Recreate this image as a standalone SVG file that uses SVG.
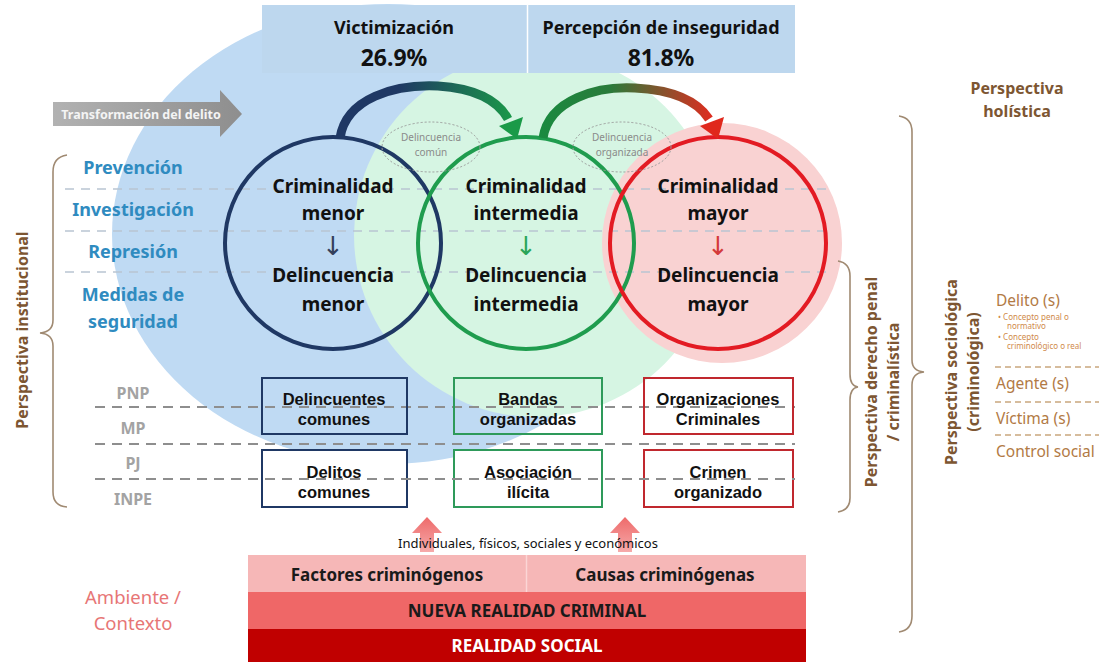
<svg xmlns="http://www.w3.org/2000/svg" width="1099" height="662" viewBox="0 0 1099 662">
<style>
.sans{font-family:"Noto Sans","Liberation Sans",sans-serif}
.b{font-weight:bold}
.ctr{text-anchor:middle}
.circ{font-family:"Noto Sans","Liberation Sans",sans-serif;font-weight:bold;font-size:19px;text-anchor:middle;fill:#111}
.darr{font-family:"DejaVu Sans",sans-serif;font-size:26px;text-anchor:middle}
.inst{font-family:"Noto Sans","Liberation Sans",sans-serif;font-weight:bold;font-size:18px;text-anchor:middle;fill:#2f8bc0}
.org{font-family:"Liberation Sans",Arial,sans-serif;font-weight:bold;font-size:16.5px;text-anchor:middle;fill:#111}
.gray{font-family:"Noto Sans","Liberation Sans",sans-serif;font-weight:bold;font-size:16px;text-anchor:middle;fill:#a3a3a3}
.brown{font-family:"Noto Sans","Liberation Sans",sans-serif;font-weight:bold;font-size:16px;text-anchor:middle;fill:#7d5632}
.soc{font-family:"Noto Sans","Liberation Sans",sans-serif;font-size:15.5px;fill:#b27a45}
.tiny{font-family:"Noto Sans","Liberation Sans",sans-serif;font-size:8px;fill:#d08a4a}
.dashg{stroke:#b9c5d2;stroke-width:1.6;stroke-dasharray:9 7;fill:none}
.dashd{stroke:#8e8e8e;stroke-width:2;stroke-dasharray:10 7;fill:none}
.dasho{stroke:#c9a67e;stroke-width:1.3;stroke-dasharray:6 4;fill:none}
.brk{stroke:#a08a72;stroke-width:1.6;fill:none}
.bubble{fill:none;stroke:#9a9a9a;stroke-width:1;stroke-dasharray:2 2}
.btxt{font-family:"Noto Sans","Liberation Sans",sans-serif;font-size:10px;fill:#8a8a8a;text-anchor:middle}
</style>
<defs>
<linearGradient id="g1" gradientUnits="userSpaceOnUse" x1="336" y1="0" x2="515" y2="0">
<stop offset="0" stop-color="#1f3864"/><stop offset="0.35" stop-color="#1f3864"/><stop offset="1" stop-color="#1a9a48"/>
</linearGradient>
<linearGradient id="g2" gradientUnits="userSpaceOnUse" x1="540" y1="0" x2="717" y2="0">
<stop offset="0" stop-color="#1a8a40"/><stop offset="0.4" stop-color="#2a7a3a"/><stop offset="1" stop-color="#e8281e"/>
</linearGradient>
<linearGradient id="gt" x1="0" y1="0" x2="1" y2="0">
<stop offset="0" stop-color="#b2b2b2"/><stop offset="1" stop-color="#8e8e8e"/>
</linearGradient>
<linearGradient id="gu" x1="0" y1="0" x2="0" y2="1">
<stop offset="0" stop-color="#ee6a6a"/><stop offset="1" stop-color="#f6aaaa"/>
</linearGradient>
</defs>

<!-- background halos -->
<g id="halos">
<ellipse cx="388" cy="234" rx="276" ry="230" fill="#bfdaf3"/>
<circle cx="536" cy="235" r="182" fill="#d6f5e3"/>
<circle cx="722" cy="243" r="120" fill="#f9d2d2"/>
</g>

<!-- top indicators -->
<g id="indicadores">
<rect x="262" y="5" width="265" height="68" fill="#bdd7ee"/>
<rect x="528" y="5" width="267" height="68" fill="#bdd7ee"/>
<line x1="527.5" y1="5" x2="527.5" y2="73" stroke="#fff" stroke-width="1.5"/>
<text class="sans b ctr" x="394" y="34" font-size="18" fill="#111">Victimización</text>
<text class="sans b ctr" x="394" y="66" font-size="23" fill="#111">26.9%</text>
<text class="sans b ctr" x="661" y="34" font-size="18" fill="#111">Percepción de inseguridad</text>
<text class="sans b ctr" x="661" y="66" font-size="23" fill="#111">81.8%</text>
</g>

<!-- transformación -->
<g id="transformacion">
<polygon points="53,102 220,102 220,90 242,114 220,137 220,126 53,126" fill="url(#gt)"/>
<text class="sans b ctr" x="141" y="118.5" font-size="12.5" fill="#f4f4f4">Transformación del delito</text>
</g>

<!-- dashed guide lines -->
<g id="guias">
<line class="dashg" x1="65" y1="189" x2="830" y2="189"/>
<line class="dashg" x1="65" y1="231" x2="830" y2="231"/>
<line class="dashg" x1="65" y1="272" x2="830" y2="272"/>
<line class="dashd" x1="95" y1="407" x2="795" y2="407"/>
<line class="dashd" x1="95" y1="444" x2="795" y2="444"/>
</g>

<!-- institutional perspective -->
<g id="perspectiva-institucional">
<path class="brk" d="M67,155 Q53,157 53,172 L53,320 Q53,332 40,333 Q53,334 53,346 L53,492 Q53,506 67,507"/>
<text class="brown" transform="translate(28,330) rotate(-90)" fill="#85592e">Perspectiva institucional</text>
<text class="inst" x="133" y="174">Prevención</text>
<text class="inst" x="133" y="216">Investigación</text>
<text class="inst" x="133" y="258">Represión</text>
<text class="inst" x="133" y="301">Medidas de</text>
<text class="inst" x="133" y="328">seguridad</text>
<text class="gray" x="133" y="399">PNP</text>
<text class="gray" x="133" y="434">MP</text>
<text class="gray" x="133" y="469">PJ</text>
<text class="gray" x="133" y="505">INPE</text>
</g>

<!-- circles -->
<g id="criminalidad-menor">
<ellipse cx="333" cy="243" rx="108" ry="106" fill="none" stroke="#1f3864" stroke-width="4"/>
<text class="circ" x="333" y="193">Criminalidad</text>
<text class="circ" x="333" y="220">menor</text>
<text class="darr" x="333" y="255" fill="#34405a">↓</text>
<text class="circ" x="333" y="282">Delincuencia</text>
<text class="circ" x="333" y="311">menor</text>
</g>
<g id="criminalidad-intermedia">
<ellipse cx="526" cy="243" rx="108" ry="106" fill="none" stroke="#1f9c4e" stroke-width="4"/>
<text class="circ" x="526" y="193">Criminalidad</text>
<text class="circ" x="526" y="220">intermedia</text>
<text class="darr" x="526" y="255" fill="#2aa558">↓</text>
<text class="circ" x="526" y="282">Delincuencia</text>
<text class="circ" x="526" y="311">intermedia</text>
</g>
<g id="criminalidad-mayor">
<ellipse cx="718" cy="243" rx="108" ry="106" fill="none" stroke="#e31b23" stroke-width="4"/>
<text class="circ" x="718" y="193">Criminalidad</text>
<text class="circ" x="718" y="220">mayor</text>
<text class="darr" x="718" y="255" fill="#d43a3a">↓</text>
<text class="circ" x="718" y="282">Delincuencia</text>
<text class="circ" x="718" y="311">mayor</text>
</g>

<g id="delincuencia-comun">
<ellipse class="bubble" cx="431" cy="147" rx="49" ry="25"/>
<text class="btxt" x="431" y="141">Delincuencia</text>
<text class="btxt" x="431" y="156">común</text>
</g>
<g id="delincuencia-organizada">
<ellipse class="bubble" cx="622" cy="147" rx="49" ry="25"/>
<text class="btxt" x="622" y="141">Delincuencia</text>
<text class="btxt" x="622" y="156">organizada</text>
</g>

<!-- connectors -->
<g id="conectores">
<path d="M340,138 C346,98 395,84 438,86 C474,88 498,100 508,119" fill="none" stroke="url(#g1)" stroke-width="9"/>
<polygon points="517,139 499,126 523,117" fill="#1a9a48"/>
<path d="M543,138 C549,99 598,86 635,88 C674,90 698,102 709,119" fill="none" stroke="url(#g2)" stroke-width="9"/>
<polygon points="718,139 700,126 724,117" fill="#e0281c"/>
<polygon points="427,517 442,533 434,533 434,552 420,552 420,533 412,533" fill="url(#gu)"/>
<polygon points="625,517 640,533 632,533 632,552 618,552 618,533 610,533" fill="url(#gu)"/>
</g>

<!-- organization boxes -->
<g id="delincuentes-comunes">
<rect x="262" y="378" width="145" height="56" fill="none" stroke="#1f3864" stroke-width="2"/>
<text class="org" x="334" y="405">Delincuentes</text>
<text class="org" x="334" y="425">comunes</text>
</g>
<g id="bandas-organizadas">
<rect x="454" y="378" width="148" height="56" fill="none" stroke="#2e9a5a" stroke-width="2"/>
<text class="org" x="528" y="405">Bandas</text>
<text class="org" x="528" y="425">organizadas</text>
</g>
<g id="organizaciones-criminales">
<rect x="644" y="378" width="149" height="56" fill="none" stroke="#c0282e" stroke-width="2"/>
<text class="org" x="718" y="405">Organizaciones</text>
<text class="org" x="718" y="425">Criminales</text>
</g>
<g id="delitos-comunes">
<rect x="262" y="450" width="145" height="57" fill="#fff" stroke="#1f3864" stroke-width="2"/>
<text class="org" x="334" y="478">Delitos</text>
<text class="org" x="334" y="498">comunes</text>
</g>
<g id="asociacion-ilicita">
<rect x="454" y="450" width="148" height="57" fill="#fff" stroke="#2e9a5a" stroke-width="2"/>
<text class="org" x="528" y="478">Asociación</text>
<text class="org" x="528" y="498">ilícita</text>
</g>
<g id="crimen-organizado">
<rect x="644" y="450" width="149" height="57" fill="#fff" stroke="#c0282e" stroke-width="2"/>
<text class="org" x="718" y="478">Crimen</text>
<text class="org" x="718" y="498">organizado</text>
</g>
<line class="dashd" x1="95" y1="479" x2="795" y2="479"/>

<!-- bottom layers -->
<g id="factores">
<text class="sans ctr" x="528" y="548" font-size="13" fill="#111">Individuales, físicos, sociales y económicos</text>
<rect x="248" y="555" width="558" height="37" fill="#f6b7b7"/>
<line x1="526.5" y1="555" x2="526.5" y2="592" stroke="#fbd6d6" stroke-width="1.5"/>
<text class="sans b ctr" x="387" y="581" font-size="17" fill="#1a1a1a">Factores criminógenos</text>
<text class="sans b ctr" x="665" y="581" font-size="17" fill="#1a1a1a">Causas criminógenas</text>
</g>
<g id="nueva-realidad-criminal">
<rect x="248" y="592" width="558" height="37" fill="#ef6767"/>
<text class="sans b ctr" x="527" y="617" font-size="17" fill="#1a1a1a">NUEVA REALIDAD CRIMINAL</text>
</g>
<g id="realidad-social">
<rect x="248" y="629" width="558" height="33" fill="#c00000"/>
<text class="sans b ctr" x="527" y="652" font-size="17" fill="#fff">REALIDAD SOCIAL</text>
</g>
<g id="ambiente">
<text class="sans ctr" x="133" y="604" font-size="18.5" fill="#e77676">Ambiente /</text>
<text class="sans ctr" x="133" y="630" font-size="18.5" fill="#e77676">Contexto</text>
</g>

<!-- right perspectives -->
<g id="perspectiva-derecho-penal">
<path class="brk" d="M838,261 Q850,263 850,276 L850,374 Q850,386 858,387 Q850,388 850,400 L850,498 Q850,510 838,512"/>
<text class="brown" transform="translate(877,382) rotate(-90)">Perspectiva derecho penal</text>
<text class="brown" transform="translate(899,382) rotate(-90)">/ criminalística</text>
</g>
<g id="perspectiva-holistica">
<text class="brown" x="1017" y="94" font-size="15">Perspectiva</text>
<text class="brown" x="1017" y="117" font-size="15">holística</text>
<path class="brk" d="M899,116 Q912,118 912,132 L912,360 Q912,371 924,372 Q912,373 912,385 L912,616 Q912,630 899,632"/>
</g>
<g id="perspectiva-sociologica">
<text class="brown" transform="translate(957,372) rotate(-90)">Perspectiva sociológica</text>
<text class="brown" transform="translate(979,372) rotate(-90)">(criminológica)</text>
<text class="soc" x="996" y="306">Delito (s)</text>
<text class="tiny" x="998" y="320">•  Concepto penal o</text>
<text class="tiny" x="1007" y="329">normativo</text>
<text class="tiny" x="998" y="340">•  Concepto</text>
<text class="tiny" x="1007" y="349">criminológico o real</text>
<line class="dasho" x1="995" y1="367" x2="1099" y2="367"/>
<text class="soc" x="996" y="389">Agente (s)</text>
<line class="dasho" x1="995" y1="402" x2="1099" y2="402"/>
<text class="soc" x="996" y="424">Víctima (s)</text>
<line class="dasho" x1="995" y1="435" x2="1099" y2="435"/>
<text class="soc" x="996" y="457">Control social</text>
</g>
</svg>
